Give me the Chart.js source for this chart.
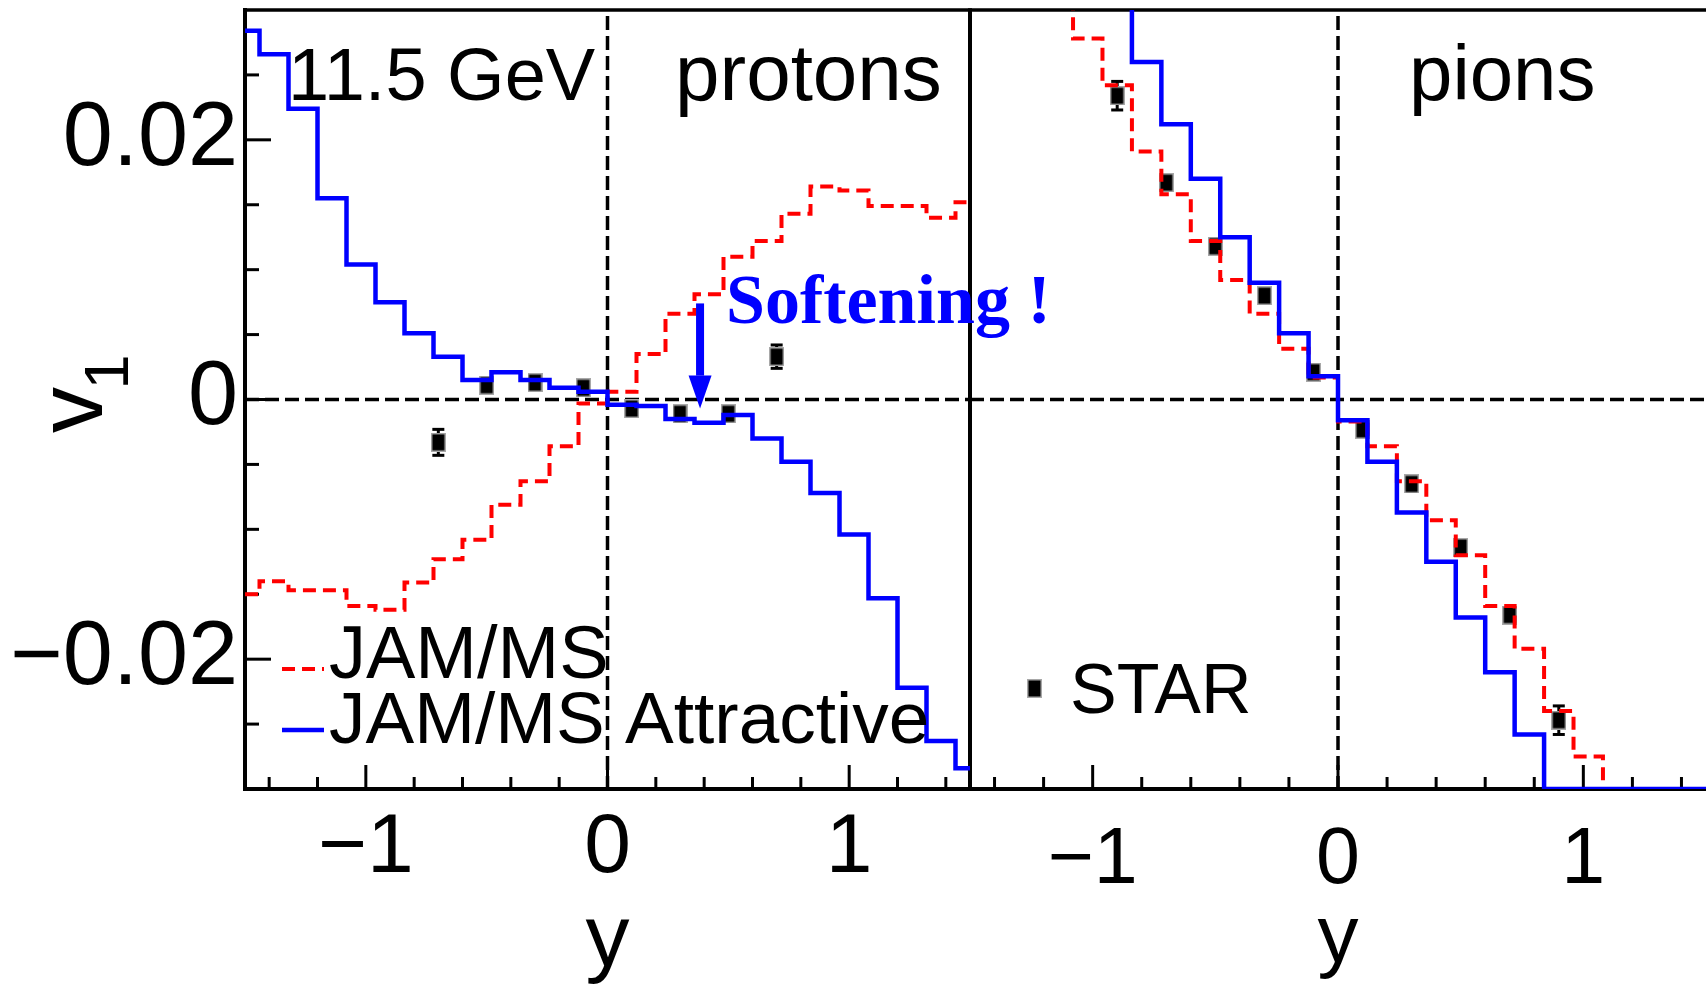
<!DOCTYPE html>
<html>
<head>
<meta charset="utf-8">
<title>v1(y) protons / pions, 11.5 GeV</title>
<script src="https://cdn.jsdelivr.net/npm/chart.js@4.4.1/dist/chart.umd.min.js"></script>
<style>
  html, body { margin: 0; padding: 0; background: #fff; }
  #wrap { position: relative; width: 1706px; height: 986px; overflow: hidden; }
  #wrap canvas { position: absolute; top: 0; }
  #chartProtons { left: 0; }
  #chartPions { left: 960px; }
</style>
</head>
<body>
<div id="wrap">
  <canvas id="chartProtons" width="1100" height="986"></canvas>
  <canvas id="chartPions" width="746" height="986"></canvas>
</div>
<script>
// ── data ──────────────────────────────────────────────────
// rapidity bin edges shared by all model histograms
const BIN_EDGES = [-1.5, -1.44, -1.32, -1.2, -1.08, -0.96, -0.84, -0.72, -0.6, -0.48, -0.36, -0.24, -0.12,
                   0, 0.12, 0.24, 0.36, 0.48, 0.6, 0.72, 0.84, 0.96, 1.08, 1.2, 1.32, 1.44, 1.5];

// protons: JAM/MS (red dashed) and JAM/MS Attractive (blue)
const PROTON_JAM  = [-0.0150, -0.0140, -0.0147, -0.0147, -0.0159, -0.0162, -0.0141, -0.0123, -0.0108, -0.0081, -0.0063, -0.0036, -0.0003,
                      0.0006,  0.0035,  0.0066,  0.0081,  0.0110,  0.0122,  0.0143,  0.0164,  0.0161,  0.0149,  0.0149,  0.0140,  0.0152];
const PROTON_ATTR = [ 0.0284,  0.0266,  0.0224,  0.0155,  0.0104,  0.0075,  0.0051,  0.0033,  0.0015,  0.0021,  0.0015,  0.0009,  0.0006,
                     -0.0004, -0.0005, -0.0015, -0.0018, -0.0012, -0.0030, -0.0048, -0.0072, -0.0104, -0.0153, -0.0222, -0.0263, -0.0284];

// pions (bins off the frame are drawn clipped at the edge)
const PION_JAM  = [0.04, 0.04, 0.04, 0.04, 0.0278, 0.0242, 0.0191, 0.0158, 0.0122, 0.0092, 0.0066, 0.0039, 0.0017,
                   -0.0017, -0.0036, -0.0063, -0.0093, -0.0120, -0.0159, -0.0192, -0.0240, -0.0275, -0.03, -0.03, -0.03, -0.03];
const PION_ATTR = [0.04, 0.04, 0.04, 0.04, 0.04, 0.04, 0.0260, 0.0212, 0.0170, 0.0125, 0.0090, 0.0051, 0.0018,
                   -0.0016, -0.0048, -0.0087, -0.0125, -0.0168, -0.0210, -0.0258, -0.03, -0.03, -0.03, -0.03, -0.03, -0.03];

// STAR measurements
const STAR_P_Y    = [-0.7, -0.5, -0.3, -0.1, 0.1, 0.3, 0.5, 0.7];
const STAR_P_V1   = [-0.0033, 0.0011, 0.0013, 0.0009, -0.0007, -0.0011, -0.0011, 0.0033];
const STAR_P_ERR  = [0.0010, 0.0004, 0.0004, 0.0004, 0.0004, 0.0004, 0.0004, 0.0009];
const STAR_PI_Y   = [-0.9, -0.7, -0.5, -0.3, -0.1, 0.1, 0.3, 0.5, 0.7, 0.9];
const STAR_PI_V1  = [0.0234, 0.0167, 0.0118, 0.0080, 0.0021, -0.0023, -0.0065, -0.0114, -0.0166, -0.0247];
const STAR_PI_ERR = [0.0011, 0.0004, 0.0004, 0.0004, 0.0004, 0.0004, 0.0004, 0.0004, 0.0004, 0.0011];

// labelled ticks
const X_TICKS = [-1, 0, 1];
const Y_TICKS = [-0.02, 0, 0.02];

// ── styling ───────────────────────────────────────────────
const FONT  = "'Liberation Sans', Arial, Helvetica, sans-serif";
const SERIF = "'Liberation Serif', 'Times New Roman', serif";
const RED = '#ff0000', BLUE = '#0000ff', BLACK = '#000000';

// "Softening !" arrow, in data units of the proton panel
const ARROW = { y: 0.383, from: 0.0074, to: -0.0007 };

Chart.defaults.font.family = FONT;
Chart.defaults.color = BLACK;

// STAR marker: black box with a grey rim
function makeMarker() {
  const c = document.createElement('canvas');
  c.width = 15; c.height = 19;
  const g = c.getContext('2d');
  g.fillStyle = '#a8a8a8'; g.fillRect(0, 0, 15, 19);
  g.fillStyle = BLACK;     g.fillRect(1.5, 1.5, 12, 16);
  return c;
}
const MARKER = makeMarker();

// step histogram: value of bin i holds from edge i to edge i+1
function histPoints(values) {
  const pts = values.map((v, i) => ({ x: BIN_EDGES[i], y: v }));
  pts.push({ x: BIN_EDGES[values.length], y: values[values.length - 1] });
  return pts;
}

function histDataset(values, color, dashed) {
  return {
    type: 'line',
    data: histPoints(values),
    stepped: 'before',
    borderColor: color,
    borderWidth: dashed ? 4 : 4.5,
    borderDash: dashed ? [13, 7] : [],
    pointRadius: 0,
    fill: false,
    order: dashed ? 2 : 1,
  };
}

function starDataset(xs, vs, errs) {
  return {
    type: 'scatter',
    data: xs.map((x, i) => ({ x, y: vs[i] })),
    errors: errs,
    pointStyle: MARKER,
    pointRadius: 7,
    order: 3,
  };
}

function fmtY(v) {
  if (v === 0) return '0';
  return (v < 0 ? '\u2212' : '') + Math.abs(v).toFixed(2);
}
function fmtX(v) {
  return v < 0 ? '\u2212' + Math.abs(v) : String(v);
}

// ── frame, ticks, zero lines, error bars ─────────────────
function strokeLine(ctx, x1, y1, x2, y2, w) {
  ctx.lineWidth = w;
  ctx.beginPath(); ctx.moveTo(x1, y1); ctx.lineTo(x2, y2); ctx.stroke();
}

function put(ctx, str, x, y, font, color, align) {
  ctx.font = font;
  ctx.fillStyle = color || BLACK;
  ctx.textAlign = align || 'left';
  ctx.textBaseline = 'alphabetic';
  ctx.fillText(str, x, y);
}

function decorPlugin(opts) {
  return {
    id: 'decor',
    beforeDatasetsDraw(chart) {
      const { ctx, chartArea: a, scales: { x, y } } = chart;
      ctx.save();
      ctx.strokeStyle = BLACK;

      // dashed zero lines
      ctx.setLineDash([14, 6]);
      const x0 = x.getPixelForValue(0), y0 = y.getPixelForValue(0);
      strokeLine(ctx, x0, a.top + 6, x0, a.bottom, 3.5);
      strokeLine(ctx, a.left, y0, a.right, y0, 3.5);
      ctx.setLineDash([]);

      // x ticks every 0.2, pointing in
      for (let k = -7; k <= 7; k++) {
        const px = x.getPixelForValue(k * 0.2);
        const len = k % 5 === 0 ? 24 : 12;
        strokeLine(ctx, px, a.bottom, px, a.bottom - len, 3);
      }
      // y ticks every 0.005 on the left axis only
      if (opts.leftAxis) {
        for (let k = -5; k <= 5; k++) {
          const py = y.getPixelForValue(k * 0.005);
          const len = k % 4 === 0 ? 26 : 14;
          strokeLine(ctx, a.left, py, a.left + len, py, 3);
        }
        strokeLine(ctx, a.left, a.top - 2, a.left, a.bottom + 2, 4);
      }
      if (opts.rightLine) strokeLine(ctx, a.right, a.top, a.right, a.bottom, 4);
      strokeLine(ctx, a.left - 2, a.top, a.right + 2, a.top, 3.5);
      strokeLine(ctx, a.left - 2, a.bottom, a.right + 2, a.bottom, 4);

      // error bars under the markers
      chart.data.datasets.forEach(ds => {
        if (!ds.errors) return;
        ds.data.forEach((p, i) => {
          const px = x.getPixelForValue(p.x);
          const hi = y.getPixelForValue(p.y + ds.errors[i]);
          const lo = y.getPixelForValue(p.y - ds.errors[i]);
          strokeLine(ctx, px, hi, px, lo, 3);
          strokeLine(ctx, px - 6, hi, px + 6, hi, 3);
          strokeLine(ctx, px - 6, lo, px + 6, lo, 3);
        });
      });
      ctx.restore();
    },
    afterDatasetsDraw(chart) {
      const { ctx, chartArea: a, scales: { x } } = chart;
      ctx.save();
      // x tick labels and axis title, placed on the scale's own pixels
      X_TICKS.forEach(v => put(ctx, fmtX(v), x.getPixelForValue(v), opts.labelBase, `${opts.labelSize}px ${FONT}`, BLACK, 'center'));
      put(ctx, 'y', (a.left + a.right) / 2, opts.titleBase, `${opts.titleSize}px ${FONT}`, BLACK, 'center');
      opts.annotate(ctx, chart);
      ctx.restore();
    },
  };
}

function baseOptions(showY) {
  return {
    responsive: false,
    animation: false,
    devicePixelRatio: 1,
    events: [],
    layout: { autoPadding: false, padding: showY ? { top: 10, right: 130 } : { top: 10, left: 10 } },
    plugins: { legend: { display: false }, tooltip: { enabled: false } },
    scales: {
      x: {
        type: 'linear', min: -1.5, max: 1.5,
        afterFit: s => { s.height = 197; s.paddingLeft = 0; s.paddingRight = 0; },
        afterBuildTicks: s => { s.ticks = X_TICKS.map(v => ({ value: v })); },
        grid: { display: false, drawTicks: false }, border: { display: false },
        ticks: { display: false },
      },
      y: {
        type: 'linear', min: -0.03, max: 0.03, display: showY,
        afterFit: s => {
          if (showY) s.width = 245;
          s.paddingTop = 0; s.paddingBottom = 0;
        },
        afterBuildTicks: s => { s.ticks = Y_TICKS.map(v => ({ value: v })); },
        grid: { display: false, drawTicks: false }, border: { display: false },
        ticks: { font: { size: 90 }, padding: 7, callback: fmtY },
      },
    },
  };
}

// ── protons panel ─────────────────────────────────────────
new Chart(document.getElementById('chartProtons'), {
  type: 'line',
  data: {
    datasets: [
      histDataset(PROTON_ATTR, BLUE, false),
      histDataset(PROTON_JAM, RED, true),
      starDataset(STAR_P_Y, STAR_P_V1, STAR_P_ERR),
    ],
  },
  options: baseOptions(true),
  plugins: [decorPlugin({
    leftAxis: true,
    rightLine: true,
    labelSize: 84, labelBase: 872,
    titleSize: 88, titleBase: 966,
    annotate(ctx, chart) {
      const { x, y } = chart.scales;
      put(ctx, '11.5 GeV', 288, 100, `74px ${FONT}`);
      put(ctx, 'protons', 675, 100, `80px ${FONT}`);

      // legend
      ctx.strokeStyle = RED; ctx.setLineDash([13, 7]);
      strokeLine(ctx, 282, 669, 324, 669, 4);
      ctx.setLineDash([]);
      ctx.strokeStyle = BLUE;
      strokeLine(ctx, 282, 730, 324, 730, 4.5);
      put(ctx, 'JAM/MS', 329, 678, `74px ${FONT}`);
      put(ctx, 'JAM/MS Attractive', 329, 743, `73px ${FONT}`);

      // v1 axis title
      ctx.save(); ctx.translate(102, 433); ctx.rotate(-Math.PI / 2);
      put(ctx, 'v', 0, 0, `92px ${FONT}`); ctx.restore();
      ctx.save(); ctx.translate(128, 389.5); ctx.rotate(-Math.PI / 2);
      put(ctx, '1', 0, 0, `63px ${FONT}`); ctx.restore();

      // softening arrow and note
      const ax = x.getPixelForValue(ARROW.y);
      const top = y.getPixelForValue(ARROW.from), tip = y.getPixelForValue(ARROW.to);
      ctx.fillStyle = BLUE;
      ctx.fillRect(ax - 4, top, 8, tip - 33 - top);
      ctx.beginPath();
      ctx.moveTo(ax - 11.5, tip - 33); ctx.lineTo(ax + 11.5, tip - 33); ctx.lineTo(ax, tip);
      ctx.closePath(); ctx.fill();
      put(ctx, 'Softening !', 726, 323, `bold 70px ${SERIF}`, BLUE);
    },
  })],
});

// ── pions panel ───────────────────────────────────────────
const PION_OFFSET = 960; // canvas left edge on the page
new Chart(document.getElementById('chartPions'), {
  type: 'line',
  data: {
    datasets: [
      histDataset(PION_ATTR, BLUE, false),
      histDataset(PION_JAM, RED, true),
      starDataset(STAR_PI_Y, STAR_PI_V1, STAR_PI_ERR),
    ],
  },
  options: baseOptions(false),
  plugins: [decorPlugin({
    leftAxis: false,
    rightLine: false,
    labelSize: 79, labelBase: 883,
    titleSize: 82, titleBase: 962,
    annotate(ctx) {
      put(ctx, 'pions', 1409 - PION_OFFSET, 100, `78px ${FONT}`);
      ctx.drawImage(MARKER, 1034 - PION_OFFSET - 7, 688 - 9);
      put(ctx, 'STAR', 1070 - PION_OFFSET, 713, `70px ${FONT}`);
    },
  })],
});
</script>
</body>
</html>
